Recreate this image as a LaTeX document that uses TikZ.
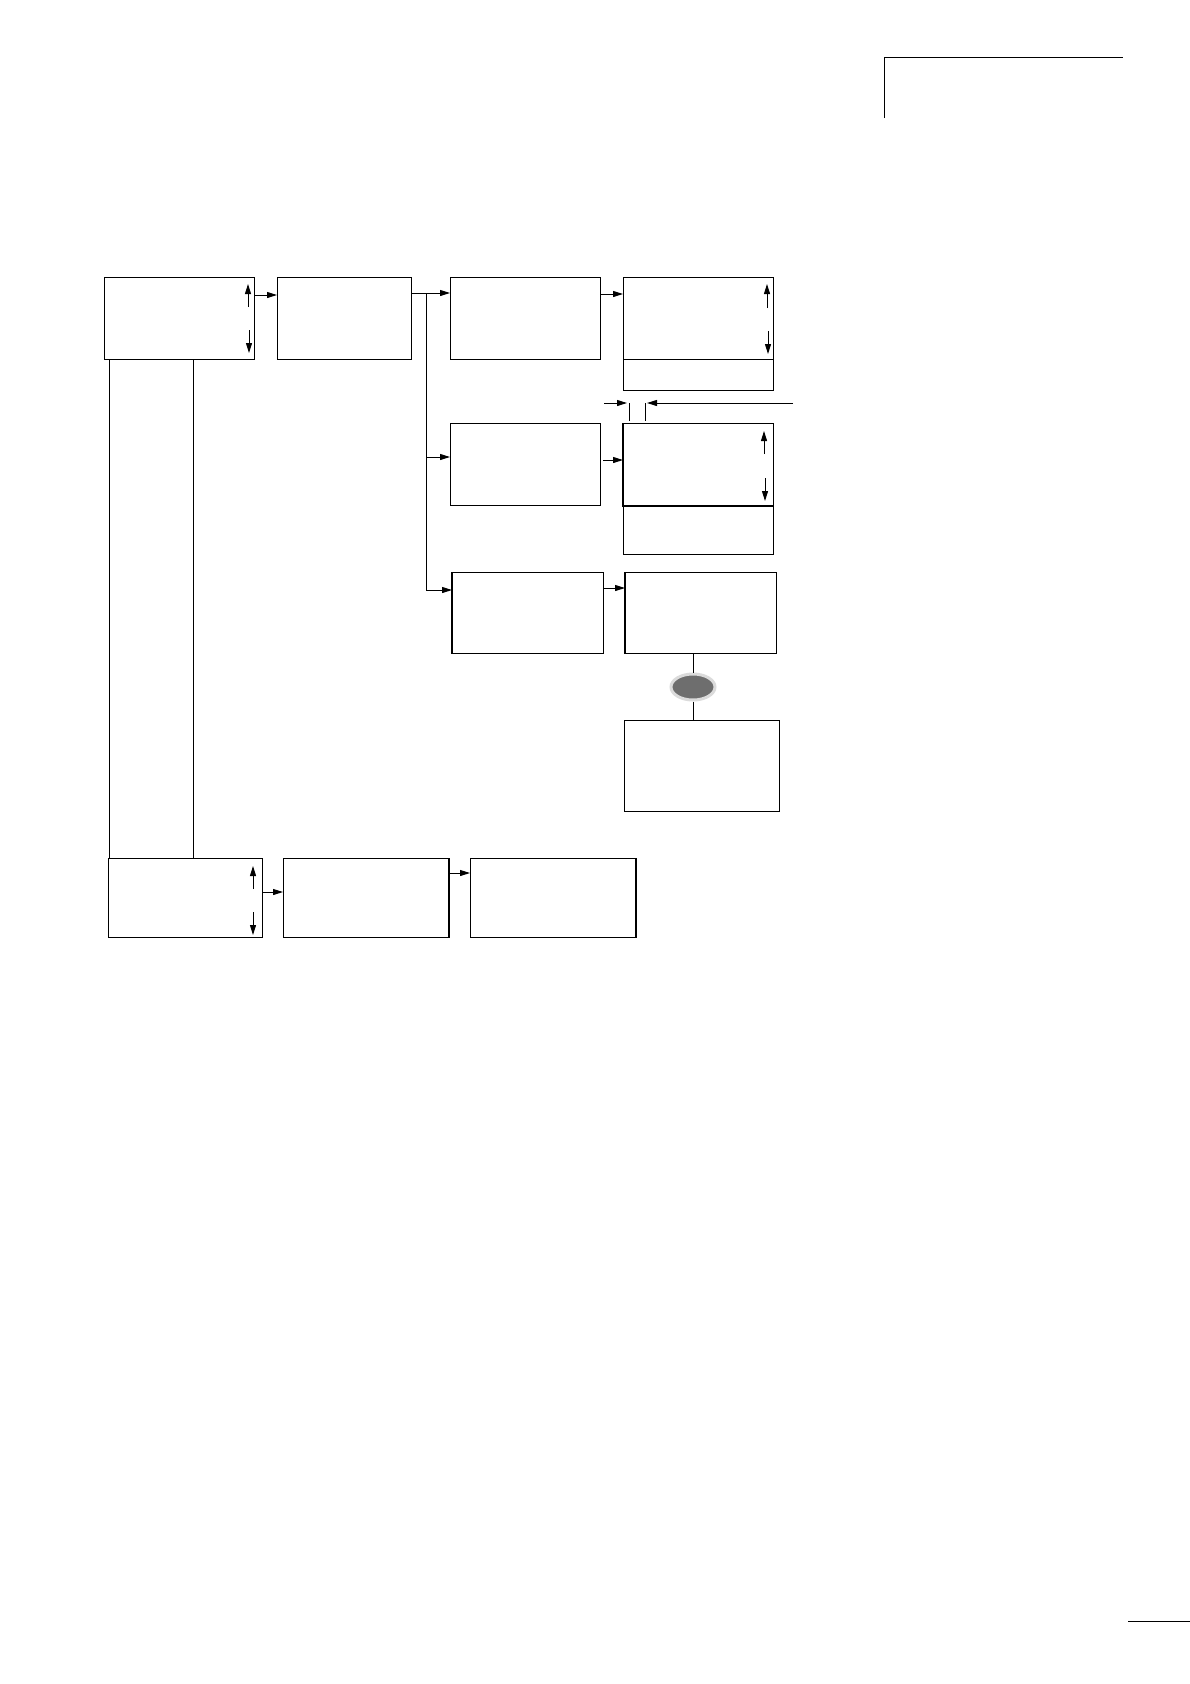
\documentclass[tikz,border=0pt]{standalone}
\usetikzlibrary{arrows.meta,shapes.geometric}

\begin{document}
\begin{tikzpicture}[x=1pt,y=-1pt,line width=1pt,
  >={Triangle[length=10pt,width=6pt]},
  screen/.style={draw,rectangle,anchor=north west,inner sep=0pt,
    minimum width=150pt,minimum height=82pt},
  heavy/.style={line width=2pt}]

  \useasboundingbox (0,0) rectangle (1190,1684);

  % page marks
  \draw (884,118) -- (884,57) -- (1123,57);
  \draw (1128,1621) -- (1190,1621);

  % first row
  \node[screen] (menu) at (104,277) {};
  \node[screen,minimum width=134pt] (param) at (277,277) {};
  \node[screen] (setA) at (450,277) {};
  \node[screen] (valA) at (623,277) {};
  \node[screen,minimum height=31pt] (infoA) at (623,359) {};

  % second row
  \node[screen] (setB) at (450,423) {};
  \node[screen] (valB) at (623,423) {};
  \node[screen,minimum height=49pt] (infoB) at (623,505) {};

  % third row
  \node[screen,minimum width=151pt,minimum height=81pt] (setC) at (452,572) {};
  \node[screen,minimum width=151pt,minimum height=81pt] (valC) at (625,572) {};
  \node[draw,ellipse,fill=black!57,draw=black!14,line width=3pt,
    minimum width=44pt,minimum height=26pt] (key) at (693,687) {};
  \node[screen,minimum width=155pt,minimum height=91pt] (done) at (624,720) {};

  % bottom row
  \node[screen,minimum width=154pt,minimum height=79pt] (sys) at (108,858) {};
  \node[screen,minimum width=165pt,minimum height=79pt] (sysA) at (283,858) {};
  \node[screen,minimum width=165pt,minimum height=79pt] (sysB) at (470,858) {};

  % heavier edges
  \draw[heavy] (valB.north west) -- (valB.south west) -- (valB.south east);
  \draw[heavy] (setC.north west) -- (setC.south west);
  \draw[heavy] (valC.north west) -- (valC.south west);
  \draw[heavy] (sysA.north east) -- (sysA.south east);
  \draw[heavy] (sysB.north east) -- (sysB.south east);

  % connections
  \coordinate (split) at (426,293);
  \draw[->] ([yshift=-18pt]menu.north east) -- ([yshift=-18pt]param.north west);
  \draw[->] ([yshift=-16pt]param.north east) -- ([yshift=-16pt]setA.north west);
  \draw[->] (split) |- ([yshift=-34pt]setB.north west);
  \draw[->] (split) |- ([yshift=-18pt]setC.north west);
  \draw[->] ([yshift=-17pt]setA.north east) -- ([yshift=-17pt]valA.north west);
  \draw[->] ([shift={(2,37)}]setB.north east) -- ([yshift=-37pt]valB.north west);
  \draw[->] ([yshift=-16pt]setC.north east) -- ([yshift=-16pt]valC.north west);
  \draw (key.north) -- (key.north |- valC.south);
  \draw (key.south) -- (key.south |- done.north);

  \draw ([xshift=5pt]menu.south west) -- ([xshift=5pt]menu.south west |- sys.north);
  \draw ([xshift=89pt]menu.south west) -- ([xshift=89pt]menu.south west |- sys.north);
  \draw[->] ([yshift=-34pt]sys.north east) -- ([yshift=-34pt]sysA.north west);
  \draw[->] ([yshift=-15pt]sysA.north east) -- ([yshift=-15pt]sysB.north west);

  % scroll arrows
  \draw[->] ([shift={(-7,30)}]menu.north east) -- ++(0,-23);
  \draw[->] ([shift={(-6,53)}]menu.north east) -- ++(0,23);
  \draw[->] ([shift={(-7,31)}]valA.north east) -- ++(0,-24);
  \draw[->] ([shift={(-6,54)}]valA.north east) -- ++(0,23);
  \draw[->] ([shift={(-10,31)}]valB.north east) -- ++(0,-23);
  \draw[->] ([shift={(-9,55)}]valB.north east) -- ++(0,23);
  \draw[->] ([shift={(-10,31)}]sys.north east) -- ++(0,-23);
  \draw[->] ([shift={(-10,54)}]sys.north east) -- ++(0,23);

  % gap marker
  \coordinate (gapL) at (604,403);
  \coordinate (gapR) at (793,403);
  \coordinate (tickA) at (629,403);
  \coordinate (tickB) at (645,403);
  \draw[->] (gapL) -- ([xshift=-2pt]tickA);
  \draw[->] (gapR) -- ([xshift=2pt]tickB);
  \draw (tickA) -- ++(0,18);
  \draw (tickB) -- ++(0,18);
\end{tikzpicture}
\end{document}
